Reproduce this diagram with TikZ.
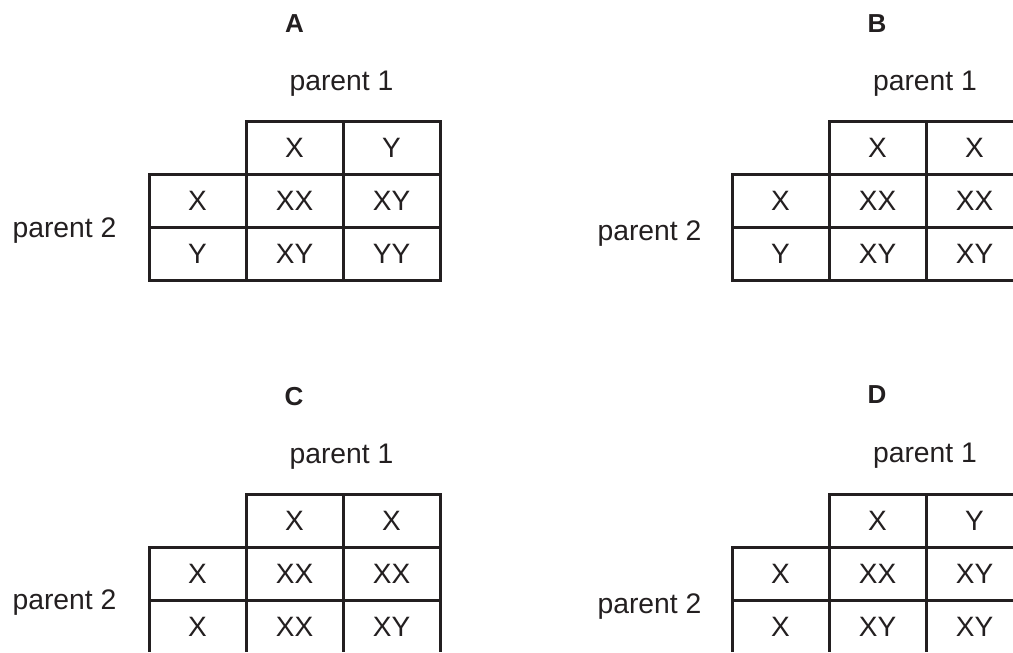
\documentclass[tikz,border=0pt]{standalone}
\usepackage{fontspec}
\setmainfont{Liberation Sans}
\definecolor{ink}{HTML}{231F20}
\tikzset{
  cell/.style={draw=ink, line width=3pt, minimum width=97pt, minimum height=53pt,
    inner sep=0pt, text=ink, font=\fontsize{28}{30}\selectfont},
  lbl/.style={anchor=base, inner sep=0pt, text=ink, font=\fontsize{28.3}{30}\selectfont},
  ttl/.style={anchor=base, inner sep=0pt, text=ink, font=\fontsize{26}{28}\selectfont\bfseries}
}
% #1 #2 header, #3 #4 row labels, #5..#8 cells, #9 name prefix
\newcommand\pgrid[9]{%
  \node[cell] (#9h1) at (145.5,26.5) {#1};
  \node[cell] (#9h2) at (242.5,26.5) {#2};
  \node[cell] (#9v1) at (48.5,79.5) {#3};
  \node[cell] (#9v2) at (48.5,132.5) {#4};
  \node[cell] (#9c11) at (145.5,79.5) {#5};
  \node[cell] (#9c12) at (242.5,79.5) {#6};
  \node[cell] (#9c21) at (145.5,132.5) {#7};
  \node[cell] (#9c22) at (242.5,132.5) {#8};
}
\begin{document}
\begin{tikzpicture}[x=1pt,y=-1pt]
\useasboundingbox (0,0) rectangle (1013,653);
\fill[white] (0,0) rectangle (1013,653);
\clip (0,0) rectangle (1013,651.3);
% A
\begin{scope}[shift={(149,121)}]
  \pgrid{X}{Y}{X}{Y}{XX}{XY}{XY}{YY}{A}
\end{scope}
\node[ttl] (tA) at (294.5,32) {A};
\node[lbl] (p1A) at (341.5,90) {parent 1};
\node[lbl] (p2A) at (64.5,237) {parent 2};
% B
\begin{scope}[shift={(732,121)}]
  \pgrid{X}{X}{X}{Y}{XX}{XX}{XY}{XY}{B}
\end{scope}
\node[ttl] (tB) at (877,32) {B};
\node[lbl] (p1B) at (925,90) {parent 1};
\node[lbl] (p2B) at (649.5,240) {parent 2};
% C
\begin{scope}[shift={(149,494)}]
  \pgrid{X}{X}{X}{X}{XX}{XX}{XX}{XY}{C}
\end{scope}
\node[ttl] (tC) at (294,405) {C};
\node[lbl] (p1C) at (341.5,463) {parent 1};
\node[lbl] (p2C) at (64.5,609) {parent 2};
% D
\begin{scope}[shift={(732,494)}]
  \pgrid{X}{Y}{X}{X}{XX}{XY}{XY}{XY}{D}
\end{scope}
\node[ttl] (tD) at (877,403) {D};
\node[lbl] (p1D) at (925,462) {parent 1};
\node[lbl] (p2D) at (649.5,613) {parent 2};
\end{tikzpicture}
\end{document}
